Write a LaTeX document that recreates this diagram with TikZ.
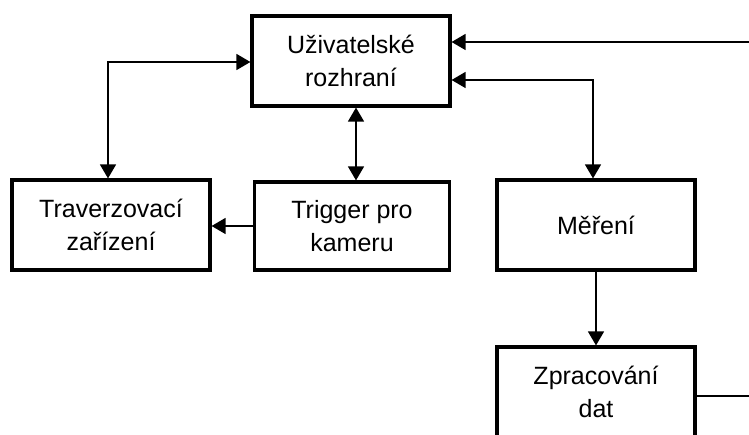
\documentclass[tikz,border=0pt]{standalone}
\usepackage{fontspec}
\setmainfont{Liberation Sans}
\usetikzlibrary{arrows.meta}
\begin{document}
\begin{tikzpicture}[x=1pt,y=-1pt,
  block/.style={draw, line width=3.2pt, minimum width=198pt, minimum height=90pt,
    align=center, font=\fontsize{25}{33}\selectfont, inner sep=0pt},
  link/.style={line width=1.5pt, -{Triangle[length=14pt,width=16pt]}},
  both/.style={line width=1.5pt, {Triangle[length=14pt,width=16pt]}-{Triangle[length=14pt,width=16pt]}},
  plain/.style={line width=1.5pt}]
\useasboundingbox (0,0) rectangle (749,435);
\clip (0,0) rectangle (749,435);
% blocks
\node[block] (ui)   at (351,61)  {Uživatelské\\rozhraní};
\node[block] (trav) at (111,225) {Traverzovací\\zařízení};
\node[block, minimum width=195pt, minimum height=88pt] (trig) at (352,226) {Trigger pro\\kameru};
\node[block] (mer)  at (596,225) {Měření};
\node[block] (zpr)  at (596,392) {Zpracování\\dat};
% helper coordinates
\coordinate (vx)  at (356,0);
\coordinate (lx)  at (108,0);
\coordinate (mx)  at (593,0);
\coordinate (r1)  at (749,42);
\coordinate (r2)  at (0,80);
\coordinate (r3)  at (749,396);
% connectors
\draw[both] (ui.west |- 0,62) -| (trav.north -| lx);
\draw[both] (ui.south -| vx) -- (trig.north -| vx);
\draw[link] (r1) -- (r1 -| ui.east);
\draw[both] (ui.east |- r2) -| (mer.north -| mx);
\draw[link] (trig.west) -- (trav.east |- trig.west);
\draw[link] (mer.south) -- (zpr.north);
\draw[plain] (zpr.east |- r3) -- (r3);
\end{tikzpicture}
\end{document}
